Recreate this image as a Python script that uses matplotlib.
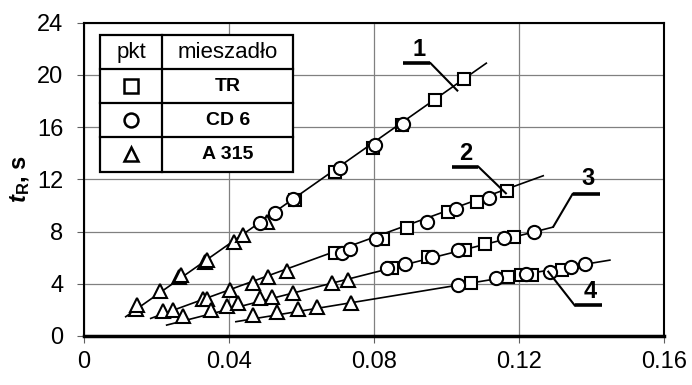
import numpy as np
import matplotlib
matplotlib.use("Agg")
import matplotlib.pyplot as plt
from matplotlib.patches import Rectangle

plt.rcParams['font.family'] = ['Liberation Sans', 'DejaVu Sans']
plt.rcParams['mathtext.fontset'] = 'custom'
plt.rcParams['mathtext.rm'] = 'Liberation Sans'
plt.rcParams['mathtext.it'] = 'Liberation Sans:italic'
plt.rcParams['mathtext.bf'] = 'Liberation Sans:bold'
plt.rcParams['mathtext.bfit'] = 'Liberation Sans:bold:italic'

# --- data ---
# squares: mieszadlo TR
sq_x = [0.0582, 0.0692, 0.0796, 0.0876, 0.0968, 0.1048,
        0.0692, 0.0826, 0.0890, 0.1005, 0.1085, 0.1168,
        0.0849, 0.0950, 0.1051, 0.1106, 0.1187,
        0.1067, 0.1171, 0.1207, 0.1235, 0.1318]
sq_y = [10.42, 12.59, 14.38, 16.17, 18.08, 19.69,
        6.34, 7.41, 8.25, 9.53, 10.29, 11.13,
        5.19, 6.03, 6.59, 7.05, 7.56,
        4.04, 4.55, 4.67, 4.70, 5.06]
# circles: CD 6
ci_x = [0.0486, 0.0527, 0.0578, 0.0706, 0.0803, 0.0879,
        0.0711, 0.0734, 0.0806, 0.0945, 0.1026, 0.1118,
        0.0835, 0.0886, 0.0959, 0.1033, 0.1159, 0.1241,
        0.1033, 0.1137, 0.1220, 0.1286, 0.1345, 0.1382]
ci_y = [8.63, 9.40, 10.50, 12.85, 14.64, 16.25,
        6.38, 6.64, 7.41, 8.76, 9.71, 10.55,
        5.19, 5.49, 6.03, 6.59, 7.49, 7.97,
        3.91, 4.42, 4.75, 4.93, 5.31, 5.52]
# triangles: A 315
tr_x = [0.0143, 0.0146, 0.0209, 0.0263, 0.0268, 0.0334, 0.0340, 0.0414, 0.0440, 0.0506,
        0.0219, 0.0245, 0.0329, 0.0338, 0.0403, 0.0467, 0.0508, 0.0561,
        0.0274, 0.0350, 0.0394, 0.0426, 0.0486, 0.0518, 0.0577, 0.0683, 0.0729,
        0.0467, 0.0532, 0.0591, 0.0642, 0.0738]
tr_y = [2.1, 2.4, 3.45, 4.5, 4.65, 5.7, 5.85, 7.2, 7.75, 8.75,
        1.9, 2.0, 2.85, 2.85, 3.5, 4.05, 4.55, 4.95,
        1.55, 2.0, 2.3, 2.5, 2.9, 3.0, 3.3, 4.05, 4.3,
        1.6, 1.85, 2.05, 2.25, 2.55]

# trend lines 1..4
fit_x0 = [0.0115, 0.0184, 0.0228, 0.0419]
fit_x1 = [0.1110, 0.1267, 0.1294, 0.1451]
fit_a = [195.2, 100.9, 70.4, 45.7]
fit_b = [-0.77, -0.51, -0.77, -0.82]

# curve labels with leader lines
lab_text = ['1', '2', '3', '4']
lab_x = [0.0925, 0.1054, 0.1391, 0.1396]
lab_y = [21.97, 14.0, 12.08, 3.39]
lead_bar_x = [[0.0881, 0.0956], [0.1014, 0.1088], [0.1348, 0.1423], [0.1354, 0.1428]]
lead_bar_y = [[20.9, 20.9], [12.97, 12.97], [10.88, 10.88], [2.34, 2.34]]
lead_diag_x = [[0.0956, 0.1030], [0.1088, 0.1164], [0.1295, 0.1348], [0.1281, 0.1354]]
lead_diag_y = [[20.9, 18.8], [12.97, 10.93], [8.38, 10.88], [4.93, 2.34]]

legend_names = ['TR', 'CD 6', 'A 315']
legend_marks = ['s', 'o', '^']

fig = plt.figure(figsize=(6.92, 3.85), dpi=100)
ax = fig.add_axes([0.1214, 0.1273, 0.838, 0.8138])

for x0, x1, a, b in zip(fit_x0, fit_x1, fit_a, fit_b):
    xs = np.array([x0, x1])
    ax.plot(xs, a * xs + b, color='black', lw=1.2, zorder=2)

mk = dict(ls='none', mfc='white', mec='black', mew=1.5, zorder=3)
ax.plot(tr_x, tr_y, marker='^', ms=10, **mk)
ax.plot(sq_x, sq_y, marker='s', ms=9, **mk)
ax.plot(ci_x, ci_y, marker='o', ms=9.5, **mk)

for i in range(4):
    ax.plot(lead_bar_x[i], lead_bar_y[i], color='black', lw=2.6, solid_capstyle='butt', zorder=4)
    ax.plot(lead_diag_x[i], lead_diag_y[i], color='black', lw=1.5, zorder=4)
    ax.text(lab_x[i], lab_y[i], lab_text[i], fontsize=17, fontweight='bold',
            ha='center', va='center', zorder=4)

ax.set_xlim(0, 0.16)
ax.set_ylim(0, 24)
ax.set_xticks(np.arange(0, 0.161, 0.04))
ax.set_xticklabels(['0', '0.04', '0.08', '0.12', '0.16'])
ax.set_yticks(np.arange(0, 25, 4))
ax.grid(True, color='#808080', lw=0.9)
ax.set_axisbelow(True)
ax.tick_params(axis='both', direction='out', length=5, width=0.8, color='#606060',
               labelsize=17)
ax.tick_params(axis='y', pad=10)
ax.tick_params(axis='x', pad=6)
for s in ['top', 'right', 'left']:
    ax.spines[s].set_linewidth(1.5)
ax.spines['bottom'].set_linewidth(2.5)

ax.set_ylabel(r'$\mathbfit{t}_{\mathbf{R}}$, s', fontsize=17, fontweight='bold')
ax.yaxis.set_label_coords(-0.09, 0.5)

# legend table
tx0, tx1, tdiv = 0.0276, 0.3609, 0.135
row_y = [0.9607, 0.8513, 0.7427, 0.6342, 0.5244]
ax.add_patch(Rectangle((tx0, row_y[-1]), tx1 - tx0, row_y[0] - row_y[-1],
                       transform=ax.transAxes, facecolor='white', edgecolor='black',
                       lw=1.6, zorder=6, clip_on=False))
for yy in row_y[1:-1]:
    ax.plot([tx0, tx1], [yy, yy], transform=ax.transAxes, color='black', lw=1.6, zorder=7)
ax.plot([tdiv, tdiv], [row_y[-1], row_y[0]], transform=ax.transAxes, color='black', lw=1.6, zorder=7)
cx1 = (tx0 + tdiv) / 2
cx2 = (tdiv + tx1) / 2
hy = (row_y[0] + row_y[1]) / 2
ax.text(cx1, hy, 'pkt', transform=ax.transAxes, fontsize=16, ha='center', va='center', zorder=8)
ax.text(cx2, hy, 'mieszadło', transform=ax.transAxes, fontsize=16, ha='center', va='center', zorder=8)
for k in range(3):
    ry = (row_y[k + 1] + row_y[k + 2]) / 2
    ax.plot([cx1], [ry], transform=ax.transAxes, marker=legend_marks[k], ms=10,
            mfc='white', mec='black', mew=1.8, ls='none', zorder=8, clip_on=False)
    ax.text(cx2, ry, legend_names[k], transform=ax.transAxes, fontsize=14,
            fontweight='bold', ha='center', va='center', zorder=8)

fig.savefig('out.png', dpi=100)
